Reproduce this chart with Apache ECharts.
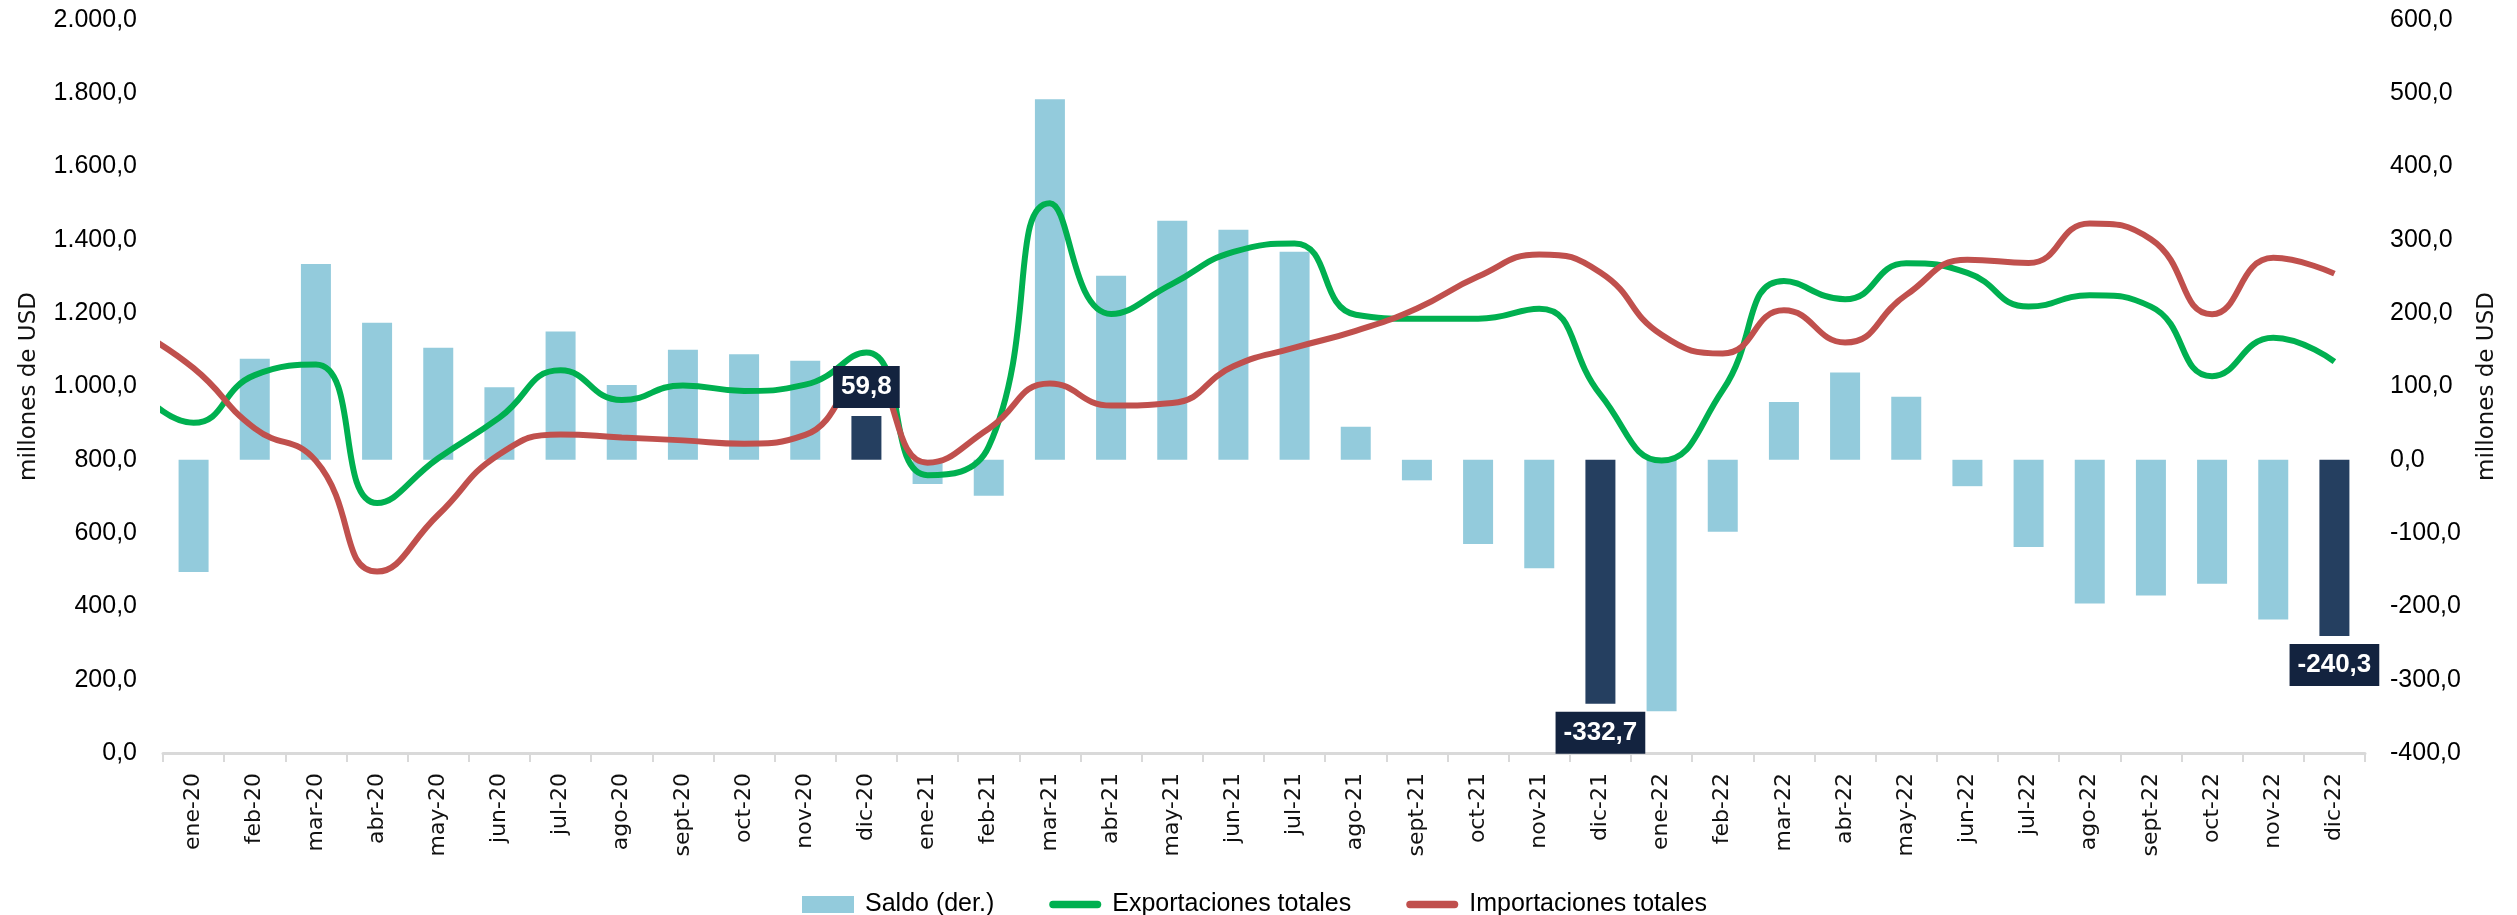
<!DOCTYPE html>
<html>
<head>
<meta charset="utf-8">
<script src="https://cdn.jsdelivr.net/npm/echarts@6/dist/echarts.min.js"></script>
<style>
  html, body { margin: 0; padding: 0; background: #fff; }
  #chart-container { width: 2517px; height: 915px; }
</style>
</head>
<body>
<div id="chart-container"></div>
<script>
var dom = document.getElementById('chart-container');
var myChart = echarts.init(dom, null, { renderer: 'canvas' });

// months on the axis
var months = ['ene-20', 'feb-20', 'mar-20', 'abr-20', 'may-20', 'jun-20', 'jul-20', 'ago-20', 'sept-20', 'oct-20', 'nov-20', 'dic-20',
  'ene-21', 'feb-21', 'mar-21', 'abr-21', 'may-21', 'jun-21', 'jul-21', 'ago-21', 'sept-21', 'oct-21', 'nov-21', 'dic-21',
  'ene-22', 'feb-22', 'mar-22', 'abr-22', 'may-22', 'jun-22', 'jul-22', 'ago-22', 'sept-22', 'oct-22', 'nov-22', 'dic-22'];

// Saldo (der.), right axis
var saldo = [-153, 138, 267, 187, 153, 99, 175, 102, 150, 144, 135, 59.8,
  -33, -49, 492, 251, 326, 314, 284, 45, -28, -115, -148, -332.7,
  -343, -98, 79, 119, 86, -36, -119, -196, -185, -169, -218, -240.3];

// lines start with dic-19, which is only partly visible at the left edge
var exportaciones = [1010,
  901, 1031, 1060, 682, 804, 915, 1044, 963, 1003, 988, 1005, 1093,
  758, 836, 1500, 1198, 1280, 1367, 1390, 1196, 1185, 1185, 1212, 978,
  798, 990, 1288, 1238, 1336, 1310, 1218, 1249, 1218, 1028, 1133, 1068];
var importaciones = [1160,
  1050, 886, 797, 495, 650, 815, 869, 861, 853, 844, 868, 1033,
  792, 885, 1008, 948, 955, 1055, 1106, 1152, 1213, 1300, 1360, 1311,
  1141, 1090, 1208, 1120, 1250, 1346, 1337, 1445, 1402, 1197, 1351, 1308];

// december bars are highlighted and labelled
var highlighted = [11, 23, 35];

var leftTicks = { min: 0, max: 2000, interval: 200 };
var rightTicks = { min: -400, max: 600, interval: 100 };

function fmt(v) {
  var neg = v < 0;
  var parts = Math.abs(v).toFixed(1).split('.');
  var ent = parts[0].replace(/\B(?=(\d{3})+(?!\d))/g, '.');
  return (neg ? '-' : '') + ent + ',' + parts[1];
}

var lightBlue = '#93cbdc';
var navy = '#253f60';
var green = '#00b050';
var red = '#c0504d';

var barData = saldo.map(function (v, i) {
  if (highlighted.indexOf(i) >= 0) {
    return { value: v, itemStyle: { color: navy } };
  }
  return v;
});

var labelData = saldo.map(function (v, i) {
  if (highlighted.indexOf(i) < 0) return '-';
  return {
    value: v,
    label: { show: true, position: v >= 0 ? 'top' : 'bottom' }
  };
});

function toXY(arr) {
  return arr.map(function (v, i) { return [i - 1, v]; });
}

// thick rounded stroke used as legend icon for the lines
var pill = 'path://M4,0 L52,0 A4,4 0 0 1 52,8 L4,8 A4,4 0 0 1 4,0 Z';

var tickFont = 'Liberation Sans';

var option = {
  backgroundColor: '#fff',
  animation: false,
  grid: { left: 163, right: 152, top: 20, bottom: 162 },
  legend: {
    left: 797,
    top: 887,
    itemWidth: 52,
    itemHeight: 17,
    itemGap: 55,
    textStyle: { fontFamily: tickFont, fontSize: 25, color: '#000', padding: [0, 0, 0, 6] },
    data: [
      { name: 'Saldo (der.)', icon: 'rect' },
      { name: 'Exportaciones totales', icon: pill, itemStyle: { color: green } },
      { name: 'Importaciones totales', icon: pill, itemStyle: { color: red } }
    ]
  },
  xAxis: [
    {
      type: 'category',
      data: months,
      boundaryGap: true,
      axisLine: { lineStyle: { color: '#d9d9d9', width: 3 } },
      axisTick: { show: true, length: 9, lineStyle: { color: '#d9d9d9', width: 2 } },
      axisLabel: {
        rotate: 90, interval: 0, margin: 20,
        fontFamily: 'DejaVu Sans', fontSize: 22, color: '#111'
      }
    },
    { type: 'value', min: -0.5, max: 35.5, show: false }
  ],
  yAxis: [
    {
      type: 'value',
      min: leftTicks.min, max: leftTicks.max, interval: leftTicks.interval,
      name: 'millones de USD', nameLocation: 'middle', nameRotate: 90, nameGap: 122,
      nameTextStyle: { fontFamily: 'DejaVu Sans', fontSize: 23, color: '#111' },
      splitLine: { show: false },
      axisLine: { show: false },
      axisTick: { show: false },
      axisLabel: { formatter: fmt, margin: 26, fontFamily: tickFont, fontSize: 25, color: '#000' }
    },
    {
      type: 'value',
      min: rightTicks.min, max: rightTicks.max, interval: rightTicks.interval,
      name: 'millones de USD', nameLocation: 'middle', nameRotate: 90, nameGap: 111,
      nameTextStyle: { fontFamily: 'DejaVu Sans', fontSize: 23, color: '#111' },
      splitLine: { show: false },
      axisLine: { show: false },
      axisTick: { show: false },
      axisLabel: { formatter: fmt, margin: 25, fontFamily: tickFont, fontSize: 25, color: '#000' }
    }
  ],
  series: [
    {
      name: 'Saldo (der.)',
      type: 'bar',
      xAxisIndex: 0,
      yAxisIndex: 1,
      barWidth: 30,
      barGap: '-100%',
      itemStyle: { color: lightBlue },
      data: barData,
      z: 2
    },
    {
      name: 'Exportaciones totales',
      type: 'line',
      xAxisIndex: 1,
      yAxisIndex: 0,
      smooth: 0.5,
      symbol: 'none',
      clip: true,
      lineStyle: { color: green, width: 6 },
      itemStyle: { color: green },
      data: toXY(exportaciones),
      z: 3
    },
    {
      name: 'Importaciones totales',
      type: 'line',
      xAxisIndex: 1,
      yAxisIndex: 0,
      smooth: 0.5,
      symbol: 'none',
      clip: true,
      lineStyle: { color: red, width: 6 },
      itemStyle: { color: red },
      data: toXY(importaciones),
      z: 3
    },
    {
      name: 'etiquetas',
      type: 'bar',
      xAxisIndex: 0,
      yAxisIndex: 1,
      barWidth: 30,
      barGap: '-100%',
      itemStyle: { color: 'rgba(0,0,0,0)' },
      label: {
        show: false,
        distance: 8,
        formatter: function (p) { return fmt(p.value); },
        backgroundColor: '#13233f',
        color: '#fff',
        fontFamily: tickFont,
        fontWeight: 'bold',
        fontSize: 26,
        lineHeight: 26,
        padding: [8, 8]
      },
      data: labelData,
      z: 10,
      silent: true
    }
  ]
};

myChart.setOption(option);
window.addEventListener('resize', myChart.resize);
</script>
</body>
</html>
